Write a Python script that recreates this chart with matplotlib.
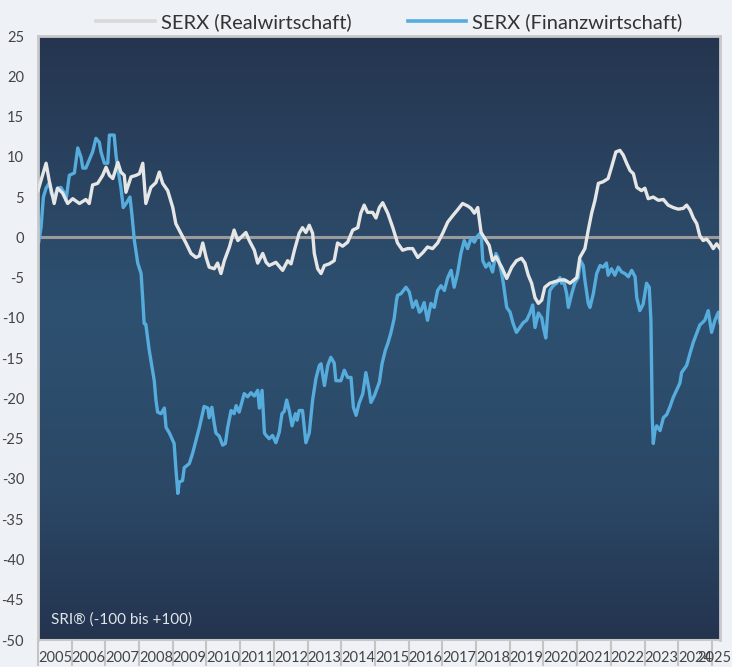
import numpy as np
import matplotlib
matplotlib.use("Agg")
import matplotlib.pyplot as plt
from matplotlib.colors import LinearSegmentedColormap
from matplotlib.transforms import blended_transform_factory
from matplotlib.lines import Line2D

# ---- data (decimal years, index values) ----
real_years = [2005.00, 2005.24, 2005.33, 2005.48, 2005.58, 2005.73, 2005.88, 2006.03, 2006.23, 2006.42,
              2006.52, 2006.62, 2006.77, 2006.92, 2007.02, 2007.12, 2007.22, 2007.37, 2007.46, 2007.56,
              2007.61, 2007.76, 2007.91, 2008.01, 2008.11, 2008.20, 2008.35, 2008.50, 2008.60, 2008.70,
              2008.85, 2009.00, 2009.09, 2009.24, 2009.39, 2009.54, 2009.69, 2009.79, 2009.89, 2009.99,
              2010.08, 2010.23, 2010.33, 2010.43, 2010.53, 2010.68, 2010.82, 2010.93, 2011.17, 2011.27,
              2011.42, 2011.52, 2011.67, 2011.77, 2011.86, 2012.06, 2012.26, 2012.41, 2012.51, 2012.61,
              2012.75, 2012.85, 2012.95, 2013.05, 2013.15, 2013.20, 2013.30, 2013.40, 2013.50, 2013.64,
              2013.79, 2013.89, 2014.04, 2014.19, 2014.34, 2014.49, 2014.58, 2014.68, 2014.78, 2014.93,
              2015.03, 2015.13, 2015.23, 2015.38, 2015.53, 2015.67, 2015.82, 2015.97, 2016.12, 2016.27,
              2016.42, 2016.56, 2016.71, 2016.86, 2017.01, 2017.16, 2017.31, 2017.45, 2017.60, 2017.75,
              2017.85, 2017.95, 2018.05, 2018.15, 2018.24, 2018.39, 2018.49, 2018.59, 2018.76, 2018.91,
              2019.06, 2019.20, 2019.35, 2019.45, 2019.55, 2019.65, 2019.75, 2019.85, 2019.95, 2020.04,
              2020.19, 2020.34, 2020.49, 2020.64, 2020.79, 2020.99, 2021.08, 2021.23, 2021.33, 2021.43,
              2021.53, 2021.63, 2021.77, 2021.92, 2022.02, 2022.15, 2022.27, 2022.37, 2022.47, 2022.57,
              2022.67, 2022.77, 2022.91, 2023.01, 2023.11, 2023.26, 2023.41, 2023.56, 2023.70, 2023.85,
              2024.00, 2024.15, 2024.25, 2024.35, 2024.45, 2024.55, 2024.64, 2024.74, 2024.84, 2024.94,
              2025.04, 2025.14, 2025.24]
real_values = [5.8, 9.2, 7.1, 4.2, 6.1, 5.5, 4.2, 4.8, 4.2, 4.7,
               4.2, 6.5, 6.7, 7.7, 8.7, 7.7, 7.3, 9.3, 8.1, 7.7,
               5.6, 7.5, 7.7, 7.9, 9.2, 4.2, 6.2, 6.8, 8.1, 6.7,
               5.8, 3.7, 1.7, 0.5, -0.7, -2.0, -2.5, -2.3, -0.7, -2.5,
               -3.7, -3.9, -3.2, -4.5, -2.9, -1.2, 0.9, -0.4, 0.6, -0.4,
               -1.6, -3.2, -2.0, -3.1, -3.5, -3.1, -4.1, -2.9, -3.3, -1.6,
               0.5, 1.2, 0.6, 1.5, 0.5, -2.0, -3.9, -4.5, -3.5, -3.3,
               -2.9, -0.7, -1.1, -0.6, 0.9, 1.2, 3.0, 4.0, 3.1, 3.1,
               2.4, 3.7, 4.3, 3.0, 1.2, -0.7, -1.6, -1.4, -1.4, -2.5,
               -1.9, -1.2, -1.4, -0.7, 0.5, 1.9, 2.7, 3.4, 4.2, 3.9,
               3.6, 3.0, 3.7, 0.6, 0.0, -1.0, -2.9, -2.4, -3.7, -5.1,
               -3.7, -2.9, -2.6, -3.2, -4.7, -5.7, -7.5, -8.2, -7.8, -6.2,
               -5.7, -5.5, -5.3, -5.3, -5.7, -5.0, -2.5, -1.4, 0.9, 3.0,
               4.6, 6.7, 6.9, 7.3, 8.7, 10.6, 10.8, 10.2, 9.2, 8.3,
               7.9, 6.2, 5.8, 6.1, 4.8, 5.0, 4.6, 4.7, 4.0, 3.7,
               3.5, 3.6, 4.0, 3.4, 2.4, 1.7, 0.2, -0.4, -0.2, -0.7,
               -1.4, -0.8, -1.4]

fin_years = [2005.02, 2005.09, 2005.16, 2005.24, 2005.34, 2005.39, 2005.48, 2005.58, 2005.68, 2005.78,
             2005.83, 2005.93, 2006.08, 2006.18, 2006.28, 2006.33, 2006.42, 2006.52, 2006.62, 2006.72,
             2006.82, 2006.87, 2006.97, 2007.07, 2007.12, 2007.26, 2007.31, 2007.36, 2007.41, 2007.46,
             2007.53, 2007.63, 2007.73, 2007.79, 2007.86, 2007.96, 2008.06, 2008.11, 2008.15, 2008.20,
             2008.30, 2008.40, 2008.45, 2008.50, 2008.55, 2008.65, 2008.75, 2008.80, 2008.90, 2009.04,
             2009.09, 2009.15, 2009.19, 2009.29, 2009.34, 2009.49, 2009.59, 2009.69, 2009.79, 2009.93,
             2010.04, 2010.08, 2010.16, 2010.23, 2010.28, 2010.38, 2010.48, 2010.56, 2010.63, 2010.73,
             2010.82, 2010.88, 2010.97, 2011.12, 2011.22, 2011.32, 2011.42, 2011.52, 2011.57, 2011.65,
             2011.72, 2011.77, 2011.86, 2011.96, 2012.06, 2012.16, 2012.24, 2012.31, 2012.38, 2012.46,
             2012.54, 2012.64, 2012.69, 2012.75, 2012.85, 2012.95, 2013.05, 2013.15, 2013.25, 2013.35,
             2013.40, 2013.50, 2013.60, 2013.69, 2013.79, 2013.84, 2013.99, 2014.09, 2014.19, 2014.29,
             2014.36, 2014.44, 2014.53, 2014.64, 2014.73, 2014.83, 2014.88, 2014.98, 2015.13, 2015.21,
             2015.31, 2015.38, 2015.47, 2015.57, 2015.64, 2015.67, 2015.77, 2015.92, 2016.02, 2016.12,
             2016.22, 2016.32, 2016.37, 2016.46, 2016.56, 2016.66, 2016.76, 2016.86, 2016.96, 2017.06,
             2017.16, 2017.26, 2017.35, 2017.45, 2017.55, 2017.65, 2017.75, 2017.85, 2017.95, 2018.05,
             2018.15, 2018.20, 2018.29, 2018.39, 2018.49, 2018.59, 2018.66, 2018.76, 2018.81, 2018.91,
             2019.01, 2019.10, 2019.20, 2019.30, 2019.40, 2019.50, 2019.60, 2019.68, 2019.75, 2019.85,
             2019.95, 2020.00, 2020.07, 2020.14, 2020.19, 2020.29, 2020.39, 2020.49, 2020.54, 2020.59,
             2020.69, 2020.74, 2020.84, 2020.93, 2021.03, 2021.10, 2021.18, 2021.23, 2021.33, 2021.38,
             2021.48, 2021.58, 2021.68, 2021.77, 2021.87, 2021.92, 2022.02, 2022.12, 2022.22, 2022.32,
             2022.42, 2022.52, 2022.62, 2022.72, 2022.77, 2022.86, 2022.96, 2023.06, 2023.14, 2023.19,
             2023.23, 2023.26, 2023.31, 2023.36, 2023.46, 2023.56, 2023.66, 2023.75, 2023.85, 2023.95,
             2024.05, 2024.10, 2024.25, 2024.35, 2024.45, 2024.55, 2024.64, 2024.79, 2024.89, 2024.99,
             2025.09, 2025.19, 2025.24]
fin_values = [-0.6, 1.2, 5.0, 6.1, 6.8, 5.5, 4.8, 6.1, 6.2, 5.5,
              4.6, 7.7, 8.0, 11.1, 9.9, 8.6, 8.6, 9.6, 10.6, 12.3,
              11.8, 10.6, 9.2, 9.2, 12.7, 12.7, 10.4, 8.7, 7.5, 6.2,
              3.7, 4.3, 5.0, 2.7, -0.4, -3.2, -4.5, -7.8, -10.7, -10.8,
              -14.0, -16.5, -17.8, -20.2, -21.7, -21.9, -21.2, -23.6, -24.3, -25.6,
              -28.6, -31.8, -30.4, -30.2, -28.6, -28.1, -26.8, -25.2, -23.6, -21.0,
              -21.2, -22.4, -21.1, -23.1, -24.3, -24.7, -25.8, -25.6, -23.6, -21.5,
              -21.9, -20.9, -21.7, -19.4, -19.8, -19.3, -19.7, -19.0, -21.2, -19.0,
              -24.3, -24.6, -25.0, -24.6, -25.5, -24.2, -21.9, -21.6, -20.2, -21.6,
              -23.4, -21.9, -22.7, -21.5, -21.5, -25.5, -24.3, -20.2, -17.5, -15.9,
              -15.7, -18.4, -15.9, -14.9, -15.6, -17.8, -17.8, -16.5, -17.4, -17.4,
              -21.1, -22.1, -20.6, -19.4, -16.8, -19.0, -20.5, -19.7, -18.0, -15.7,
              -14.0, -13.2, -11.9, -10.1, -7.8, -7.2, -7.0, -6.2, -6.8, -8.7,
              -7.9, -9.3, -9.1, -8.1, -10.3, -8.2, -8.7, -6.6, -6.0, -6.6,
              -5.0, -4.1, -6.2, -4.5, -2.0, -0.4, -1.4, -0.1, -0.6, 0.2,
              0.6, -2.9, -3.7, -3.2, -4.3, -2.0, -2.6, -4.5, -5.7, -8.7,
              -9.3, -10.7, -11.8, -11.2, -10.6, -10.3, -9.4, -8.4, -11.2, -9.4,
              -10.0, -11.2, -12.5, -8.7, -6.6, -6.0, -5.7, -5.0, -5.7, -5.2,
              -7.0, -8.7, -7.0, -5.7, -5.0, -2.9, -3.5, -5.3, -8.2, -8.7,
              -7.0, -4.5, -3.5, -3.7, -3.2, -4.7, -3.9, -4.7, -3.7, -4.3,
              -4.5, -4.9, -4.1, -4.9, -7.5, -9.1, -8.3, -5.7, -6.2, -10.3,
              -22.4, -25.6, -24.0, -23.4, -24.0, -22.4, -22.0, -21.1, -19.9, -19.0,
              -18.1, -16.8, -15.9, -14.4, -13.0, -11.9, -10.9, -10.3, -9.1, -11.8,
              -10.3, -9.3, -10.6]

year_ticks = list(range(2005, 2026))
y_ticks = list(range(-50, 30, 5))
series_labels = ["SERX (Realwirtschaft)", "SERX (Finanzwirtschaft)"]
note_text = "SRI\u00ae (-100 bis +100)"

plt.rcParams['font.family'] = ['Lato', 'DejaVu Sans']

fig = plt.figure(figsize=(7.32, 6.67), dpi=100)
fig.patch.set_facecolor('#eef2f6')
ax = fig.add_axes([38/732, 1 - 640/667, (720 - 38)/732, (640 - 36)/667])

xmin, xmax = 2005.0, 2025.24
ymin, ymax = -50, 25

# vertical gradient background
cmap = LinearSegmentedColormap.from_list('bg', [(0.0, '#25354f'), (0.45, '#2e5171'),
                                                (0.75, '#2b4866'), (1.0, '#24344f')])
grad = np.linspace(0, 1, 256).reshape(-1, 1)
ax.imshow(grad, cmap=cmap, aspect='auto', extent=[xmin, xmax, ymin, ymax],
          origin='upper', zorder=0)

real_color = '#e6e6e6'
fin_color = '#55acdd'
ax.axhline(0, color='#9a9a9a', lw=2.2, zorder=1)
ax.plot(real_years, real_values, color=real_color, lw=2.4, zorder=3, solid_joinstyle='round')
ax.plot(fin_years, fin_values, color=fin_color, lw=2.4, zorder=2, solid_joinstyle='round')

ax.set_xlim(xmin, xmax)
ax.set_ylim(ymin, ymax)
ax.set_yticks(y_ticks)
ax.set_yticklabels([str(v) for v in y_ticks])
ax.tick_params(axis='y', length=0, pad=10, labelsize=10.5, labelcolor='#444444')
ax.set_xticks(year_ticks)
ax.set_xticklabels([])
ax.tick_params(axis='x', direction='out', length=19, width=1.5, color='#c4c4c4')

trans = blended_transform_factory(ax.transData, ax.transAxes)
for yr in year_ticks[:-1]:
    ax.text(yr, -0.018, str(yr), transform=trans, ha='left', va='top',
            fontsize=10.5, color='#444444', clip_on=False)
# last label is pushed left so it fits inside the figure (overlaps the previous one)
fig.text(0.999, 1 - (640 + 0.018 * 604) / 667, str(year_ticks[-1]), ha='right', va='top',
         fontsize=10.5, color='#444444')

for s in ['left', 'right', 'top']:
    ax.spines[s].set_color('#c8c8c8')
    ax.spines[s].set_linewidth(2)
ax.spines['bottom'].set_color('#c8c8c8')
ax.spines['bottom'].set_linewidth(1.5)

ax.text(0.019, 0.022, note_text, transform=ax.transAxes, color='#e2e6ea',
        fontsize=11, ha='left', va='bottom', zorder=4)

handles = [Line2D([], [], color='#d9d9d9', lw=2.6), Line2D([], [], color=fin_color, lw=2.6)]
fig.legend(handles, series_labels, loc='upper center', bbox_to_anchor=(0.532, 1.008), ncol=2,
           frameon=False, fontsize=14.5, handlelength=2.9, columnspacing=2.8,
           handletextpad=0.3, labelcolor='#333333')

fig.savefig('out.png', dpi=100, facecolor=fig.get_facecolor())
